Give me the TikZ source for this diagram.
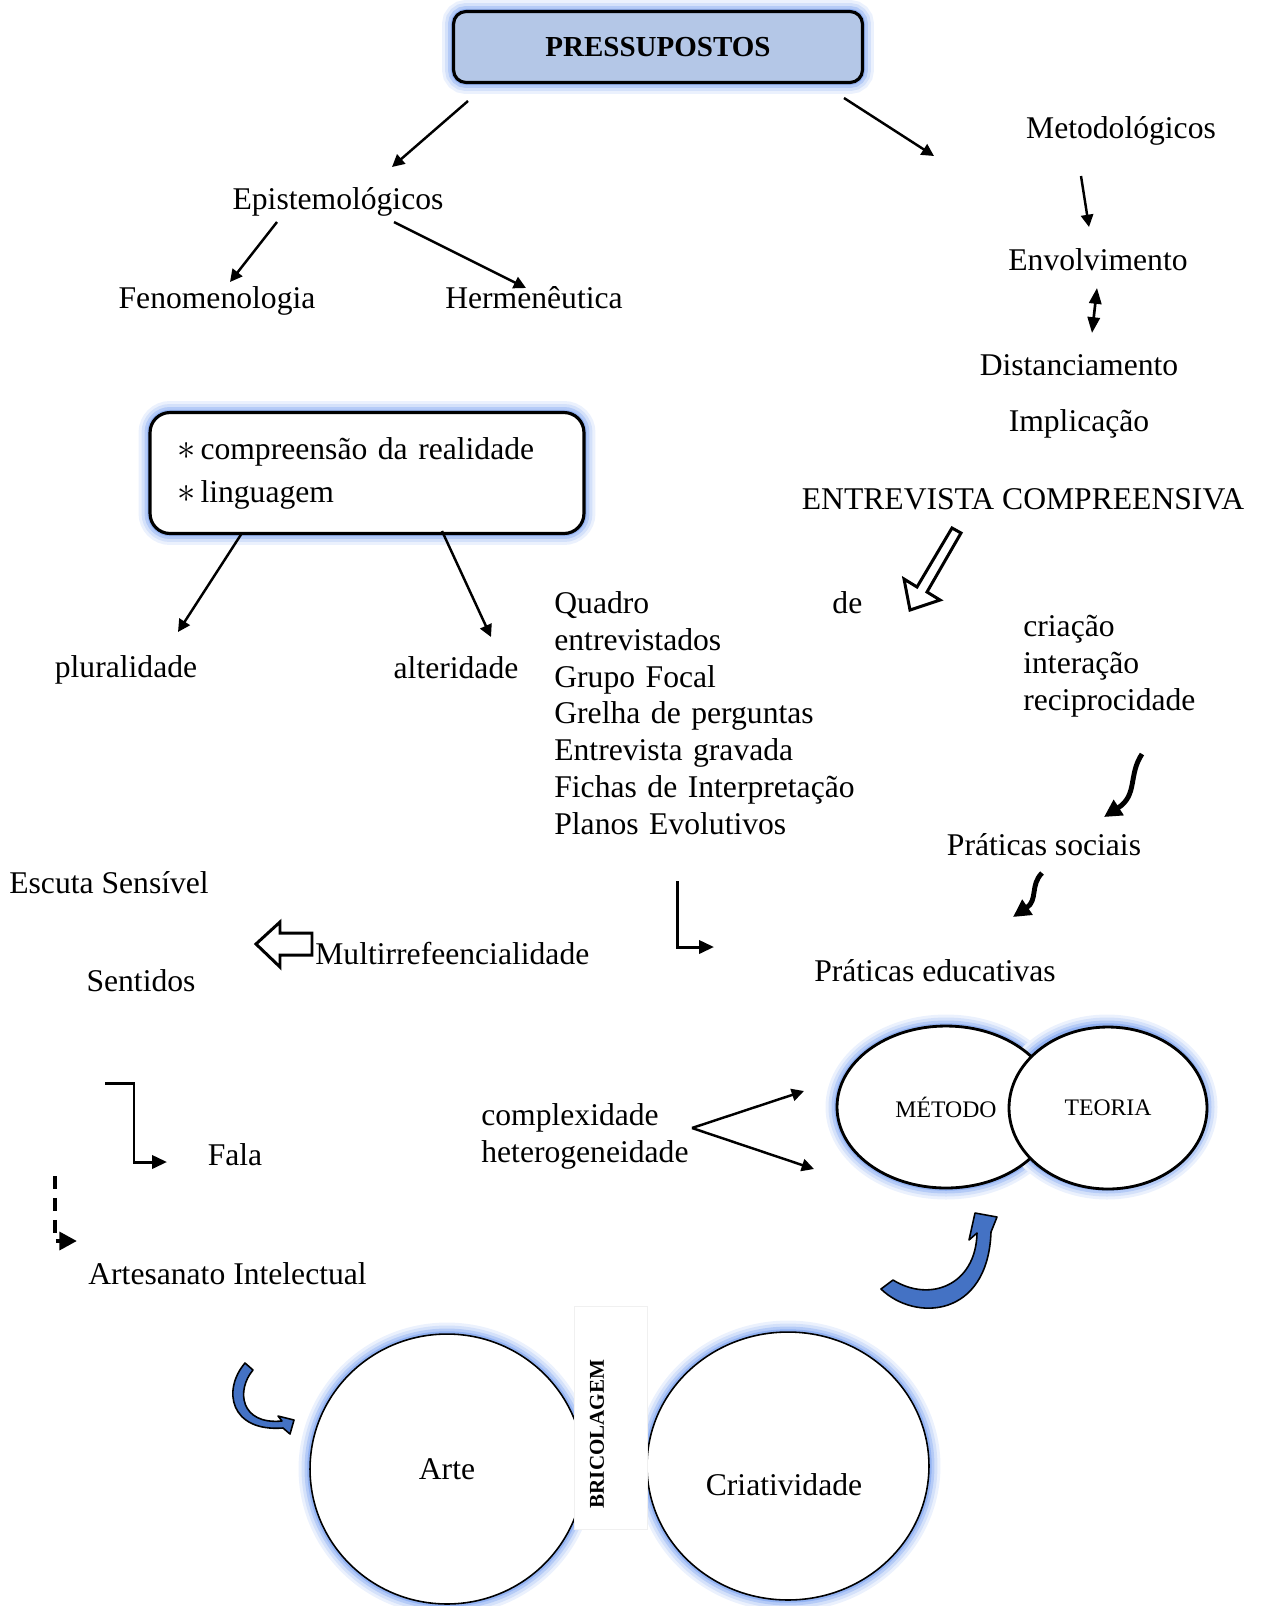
\documentclass[tikz,border=0pt]{standalone}
\usepackage{fontspec}
\setmainfont{Liberation Serif}
\usetikzlibrary{shapes.geometric,arrows.meta}

\definecolor{boxblue}{RGB}{180,199,231}
\definecolor{glowblue}{RGB}{120,160,240}
\definecolor{arrowblue}{RGB}{68,114,196}

\begin{document}
\begin{tikzpicture}[
    x=0.02cm, y=-0.02cm,
    every node/.style={font=\fontsize{18}{21}\selectfont, inner sep=0pt},
    glow/.style={preaction={draw=glowblue!15, line width=0.46cm},
                 preaction={draw=glowblue!32, line width=0.34cm},
                 preaction={draw=glowblue!55, line width=0.22cm},
                 preaction={draw=glowblue!80, line width=0.11cm}},
    title-box/.style={rectangle, rounded corners=0.25cm, draw, line width=1.8pt, fill=boxblue, glow,
                 minimum width=8.18cm, minimum height=1.42cm, font=\bfseries\fontsize{16.5}{20}\selectfont},
    idea-box/.style={rectangle, rounded corners=0.4cm, draw, line width=1.8pt, fill=white, glow,
                 minimum width=8.68cm, minimum height=2.42cm, text width=7.6cm, align=left},
    pole/.style={ellipse, draw, line width=1.6pt, fill=white, font=\fontsize{13.5}{16}\selectfont},
    ball/.style={ellipse, draw, line width=0.9pt, fill=white},
    conn/.style={line width=1.4pt, -{Triangle[length=7pt,width=7pt]}},
    elbow/.style={line width=1.7pt, -{Triangle[length=8.5pt,width=7.5pt]}},
    wavy/.style={line width=2.8pt, -{Triangle[length=10pt,width=10pt]}},
    hollow/.style={draw, line width=1.7pt, fill=white, line join=miter},
    bent/.style={draw, line width=0.9pt, fill=arrowblue, line join=round}
  ]
  \useasboundingbox (0,0) rectangle (1269,1606);

  % top
  \node[title-box] (press) at (658,47) {PRESSUPOSTOS};

  % right column
  \node[anchor=base] (metod) at (1121,138) {Metodológicos};
  \node[anchor=base] (envolv) at (1098,270) {Envolvimento};
  \node[anchor=base] (distan) at (1079,375) {Distanciamento};
  \node[anchor=base] (implic) at (1079,431) {Implicação};
  \node[anchor=base] (entrev) at (1023,509) {ENTREVISTA COMPREENSIVA};
  \node[anchor=north west, align=left] (traits) at (1023,615) {criação\\ interação\\ reciprocidade};
  \node[anchor=base] (psoc) at (1044,855) {Práticas sociais};
  \node[anchor=base] (peduc) at (935,981) {Práticas educativas};

  % left column
  \node[anchor=base] (epist) at (338,209) {Epistemológicos};
  \node[anchor=base] (fenom) at (217,308) {Fenomenologia};
  \node[anchor=base] (herm) at (534,308) {Hermenêutica};
  \node[idea-box] (ideas) at (367,473)
    {{\fontsize{20}{20}\selectfont$*$}\,compreensão da realidade\\[3.4pt] {\fontsize{20}{20}\selectfont$*$}\,linguagem};
  \node[anchor=base] (plural) at (126,677) {pluralidade};
  \node[anchor=base] (alter) at (456,678) {alteridade};

  % middle
  \node[anchor=north west, text width=6.16cm, align=left] (tools) at (554,591)
    {Quadro\hfill de\\ entrevistados\\ Grupo Focal\\ Grelha de perguntas\\ Entrevista gravada\\
     Fichas de Interpretação\\ Planos Evolutivos};
  \node[anchor=base west] (escuta) at (9,893) {Escuta Sensível};
  \node[anchor=base west] (multi) at (315,964) {Multirrefeencialidade};
  \node[anchor=base] (sent) at (141,991) {Sentidos};
  \node[anchor=base] (fala) at (235,1165) {Fala};
  \node[anchor=base west] (artes) at (88,1284) {Artesanato Intelectual};
  \node[anchor=north west, align=left] (complex) at (481,1103) {complexidade\\ heterogeneidade};

  % method / theory
  \path[glow] (946,1107) ellipse [x radius=109, y radius=81];
  \path[glow] (1107,1107) ellipse [x radius=99, y radius=81];
  \node[pole, minimum width=4.36cm, minimum height=3.24cm] (metodo) at (946,1107) {MÉTODO};
  \node[pole, minimum width=3.96cm, minimum height=3.24cm] (teoria) at (1108,1108) {TEORIA};

  % bricolagem
  \node[ball, glow, minimum width=5.48cm, minimum height=5.4cm] (arte) at (447,1469) {Arte};
  \node[ball, glow, minimum width=5.64cm, minimum height=5.36cm] (criat) at (788,1466) {};
  \node[anchor=base] (criatl) at (784,1495) {Criatividade};
  \node[rectangle, draw=gray!12, fill=white, minimum width=1.46cm, minimum height=4.46cm] (bric) at (611,1418) {};
  \node[rotate=90, font=\bfseries\fontsize{12}{14}\selectfont] (bricl) at (597,1434) {BRICOLAGEM};

  % arrow ends
  \coordinate (pl) at (468,101);  \coordinate (epi) at (392,167);
  \coordinate (pr) at (844,98);   \coordinate (met) at (934,156);
  \coordinate (m1) at (1081,176); \coordinate (m2) at (1089,227);
  \coordinate (d1) at (1097,288); \coordinate (d2) at (1092,333);
  \coordinate (e1) at (277,222);  \coordinate (fen) at (230,282);
  \coordinate (e2) at (394,222);  \coordinate (her) at (526,288);
  \coordinate (b1) at (242,533);  \coordinate (plu) at (178,632);
  \coordinate (b2) at (442,531);  \coordinate (alt) at (491,637);
  \coordinate (w1) at (1142,754); \coordinate (w1e) at (1104,817);
  \coordinate (w2) at (1042,873); \coordinate (w2e) at (1013,917);
  \coordinate (t1) at (677,881);  \coordinate (t2) at (714,947);
  \coordinate (f1) at (105,1083); \coordinate (f2) at (167,1162);
  \coordinate (a1) at (55,1176);  \coordinate (a2) at (77,1241);
  \coordinate (c0) at (692,1128);
  \coordinate (c1) at (804,1091); \coordinate (c2) at (814,1169);

  \draw[conn] (pl) -- (epi);
  \draw[conn] (pr) -- (met);
  \draw[conn] (m1) -- (m2);
  \draw[line width=1.5pt, {Triangle[length=9pt,width=7pt]}-{Triangle[length=9pt,width=7pt]}] (d1) -- (d2);
  \draw[conn] (e1) -- (fen);
  \draw[conn] (e2) -- (her);
  \draw[conn] (b1) -- (plu);
  \draw[conn] (b2) -- (alt);
  \draw[wavy] (w1) .. controls (1128,775) and (1138,795) .. (w1e);
  \draw[wavy] (w2) .. controls (1030,885) and (1038,900) .. (w2e);
  \draw[elbow] (t1) |- (t2);
  \draw[elbow] (f1) -- ++(29,0) |- (f2);
  \draw[line width=2.8pt, dash pattern=on 7.5pt off 5pt, -{Triangle[length=10pt,width=10pt]}] (a1) |- (a2);
  \draw[conn] (c0) -- (c1);
  \draw[conn] (c0) -- (c2);

  % block arrows
  \draw[hollow] (910,610) -- (940,600) -- (927,592) -- (961,533) -- (952,528) -- (917,587) -- (904,579) -- cycle;
  \draw[hollow] (256,944) -- (280,922) -- (280,933) -- (312,933) -- (312,955) -- (280,955) -- (280,967) -- cycle;
  \draw[bent] (881,1289) .. controls (915,1322) and (988,1318) .. (991,1232) -- (997,1217) -- (975,1213)
    -- (969,1240) -- (977,1233) .. controls (976,1285) and (930,1303) .. (893,1280) -- cycle;
  \draw[bent] (245,1363) .. controls (222,1390) and (230,1432) .. (283,1428) -- (290,1434) -- (294,1420)
    -- (278,1416) -- (282,1421) .. controls (240,1425) and (236,1390) .. (253,1370) -- cycle;
\end{tikzpicture}
\end{document}
